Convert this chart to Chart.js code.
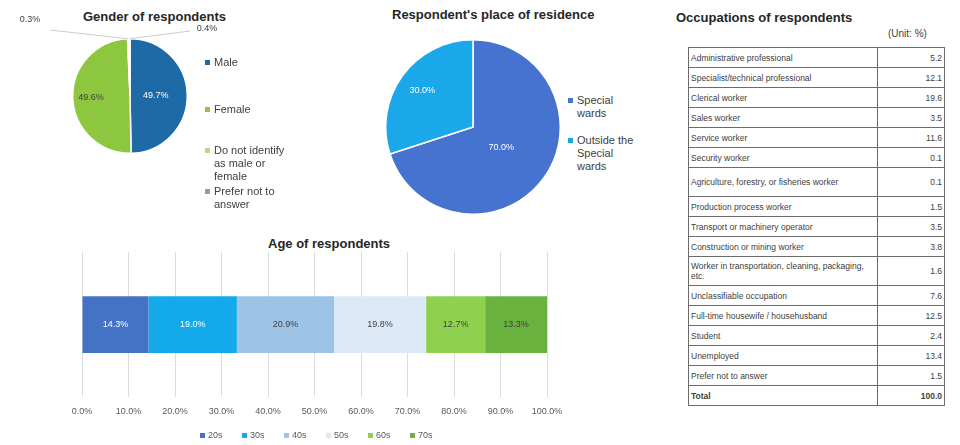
<!DOCTYPE html>
<html>
<head>
<meta charset="utf-8">
<script src="https://cdn.jsdelivr.net/npm/chart.js@4/dist/chart.umd.min.js"></script>
<style>
  html, body { margin: 0; padding: 0; background: #fff; }
  body { width: 960px; height: 445px; position: relative; overflow: hidden;
         font-family: "Liberation Sans", Arial, sans-serif; color: #404040; }
  .box { position: absolute; }
  .title { position: absolute; font-weight: bold; font-size: 13px; color: #262626; white-space: nowrap; }
  .legend { position: absolute; font-size: 11px; line-height: 13px; color: #404040; }
  .legend div { position: relative; padding-left: 9px; }
  .legend i { position: absolute; left: 0; top: 4px; width: 5px; height: 5px; }
  #ageLegend { position: absolute; left: 200px; top: 430px; display: flex; gap: 13px;
               font-size: 9px; line-height: 11px; color: #595959; }
  #ageLegend div { position: relative; padding-left: 8px; width: 21px; }
  #ageLegend i { position: absolute; left: 0; top: 3px; width: 5px; height: 5px; }
  #occ { position: absolute; left: 688px; top: 47px; width: 257px; border-collapse: collapse;
         font-size: 8.5px; color: #404040; }
  #occ td { border: 1px solid #6b6b6b; padding: 0 2px; height: 19px; line-height: 10px; }
  #occ td.v { text-align: right; width: 62px; border-left: 1.5px solid #333; }
  #occ tr.tall td { height: 28px; }
  #occ tr.total td { font-weight: bold; border-top: 1.5px solid #333; }
</style>
</head>
<body>
<div class="title" style="left:83px;top:9px;">Gender of respondents</div>
<div class="title" style="left:392px;top:7px;">Respondent's place of residence</div>
<div class="title" style="left:676px;top:10px;">Occupations of respondents</div>
<div class="title" style="left:268px;top:236px;">Age of respondents</div>
<div style="position:absolute;left:888px;top:28px;font-size:10px;color:#404040;">(Unit: %)</div>

<div class="box" style="left:0;top:0;width:330px;height:230px;"><canvas id="genderChart"></canvas></div>
<div class="box" style="left:385px;top:39px;width:176px;height:176px;"><canvas id="residenceChart"></canvas></div>
<div class="box" style="left:40px;top:230px;width:560px;height:215px;"><canvas id="ageChart"></canvas></div>

<div class="legend" id="genderLegend" style="left:205px;top:56px;width:82px;"></div>
<div class="legend" id="residenceLegend" style="left:568px;top:94px;width:70px;"></div>
<div id="ageLegend"></div>
<table id="occ"></table>

<script>
(() => {
  "use strict";

  // ── data ──────────────────────────────────────────────
  const genderLabels = ["Male", "Female", "Do not identify as male or female", "Prefer not to answer"];
  const genderValues = [49.7, 49.6, 0.3, 0.4];
  const genderColors = ["#1d6aa6", "#8dc63f", "#b5d88a", "#9a9a9a"];

  const residenceLabels = ["Special wards", "Outside the Special wards"];
  const residenceValues = [70.0, 30.0];
  const residenceColors = ["#4673cf", "#1aa8ea"];

  const ageGroups = ["20s", "30s", "40s", "50s", "60s", "70s"];
  const ageValues = [14.3, 19.0, 20.9, 19.8, 12.7, 13.3];
  const ageColors = ["#4472c4", "#12aaeb", "#9dc3e6", "#dde9f7", "#8fd14f", "#6ab23e"];
  const ageLabelColors = ["#fff", "#fff", "#404040", "#404040", "#404040", "#404040"];

  const occupations = [
    "Administrative professional",
    "Specialist/technical professional",
    "Clerical worker",
    "Sales worker",
    "Service worker",
    "Security worker",
    "Agriculture, forestry, or fisheries worker",
    "Production process worker",
    "Transport or machinery operator",
    "Construction or mining worker",
    "Worker in transportation, cleaning, packaging, etc.",
    "Unclassifiable occupation",
    "Full-time housewife / househusband",
    "Student",
    "Unemployed",
    "Prefer not to answer",
  ];
  const occupationShares = [5.2, 12.1, 19.6, 3.5, 11.6, 0.1, 0.1, 1.5, 3.5, 3.8, 1.6, 7.6, 12.5, 2.4, 13.4, 1.5];

  Chart.defaults.font.family = "'Liberation Sans', Arial, sans-serif";
  Chart.defaults.color = "#595959";

  const pct = v => v.toFixed(1) + "%";

  // value labels: inside slices/bars, plus outside labels with leader lines for thin slices
  const valueLabels = {
    id: "valueLabels",
    afterDatasetsDraw(chart, args, opts) {
      const ctx = chart.ctx;
      const ds = chart.data.datasets;
      ctx.save();
      ctx.font = (opts.size || 9) + "px 'Liberation Sans', Arial, sans-serif";
      ctx.textAlign = "center";
      ctx.textBaseline = "middle";
      ds.forEach((d, di) => {
        const meta = chart.getDatasetMeta(di);
        meta.data.forEach((el, i) => {
          const v = d.data[i];
          if (chart.config.type === "pie") {
            const p = el.getProps(["x", "y", "startAngle", "endAngle", "outerRadius"], true);
            const mid = (p.startAngle + p.endAngle) / 2;
            const out = opts.outside && opts.outside[i];
            if (out) {
              const ax = p.x + Math.cos(mid) * p.outerRadius;
              const ay = p.y + Math.sin(mid) * p.outerRadius;
              ctx.strokeStyle = "#bfbfbf";
              ctx.lineWidth = 0.8;
              ctx.beginPath();
              ctx.moveTo(out.lx, out.ly);
              ctx.lineTo(ax, ay);
              ctx.stroke();
              ctx.fillStyle = "#404040";
              ctx.fillText(pct(v), out.x, out.y);
              return;
            }
            const f = opts.radius[i];
            ctx.fillStyle = opts.colors[i];
            ctx.fillText(pct(v), p.x + Math.cos(mid) * p.outerRadius * f, p.y + Math.sin(mid) * p.outerRadius * f);
          } else {
            const p = el.getProps(["x", "y", "base"], true);
            ctx.fillStyle = opts.colors[di];
            ctx.fillText(pct(v), (p.x + p.base) / 2, p.y);
          }
        });
      });
      ctx.restore();
    },
  };

  // ── Pie: gender ───────────────────────────────────────
  new Chart(document.getElementById("genderChart"), {
    type: "pie",
    data: {
      labels: genderLabels,
      datasets: [{ data: genderValues, backgroundColor: genderColors, borderColor: "#fff", borderWidth: 1.5 }],
    },
    options: {
      responsive: true,
      maintainAspectRatio: false,
      animation: false,
      layout: { padding: { left: 72, right: 142, top: 38, bottom: 76 } },
      plugins: {
        legend: { display: false },
        tooltip: { enabled: false },
        valueLabels: {
          size: 9,
          radius: [0.45, 0.68],
          colors: ["#fff", "#404040"],
          outside: {
            2: { x: 30, y: 20, lx: 50, ly: 30 },
            3: { x: 207, y: 29, lx: 190, ly: 31 },
          },
        },
      },
    },
    plugins: [valueLabels],
  });

  // ── Pie: place of residence ──────────────────────────
  new Chart(document.getElementById("residenceChart"), {
    type: "pie",
    data: {
      labels: residenceLabels,
      datasets: [{ data: residenceValues, backgroundColor: residenceColors, borderColor: "#fff", borderWidth: 1.5 }],
    },
    options: {
      responsive: true,
      maintainAspectRatio: false,
      animation: false,
      plugins: {
        legend: { display: false },
        tooltip: { enabled: false },
        valueLabels: { size: 9, radius: [0.4, 0.72], colors: ["#fff", "#fff"] },
      },
    },
    plugins: [valueLabels],
  });

  // ── 100% stacked bar: age ────────────────────────────
  new Chart(document.getElementById("ageChart"), {
    type: "bar",
    data: {
      labels: [""],
      datasets: ageGroups.map((g, i) => ({
        label: g,
        data: [ageValues[i]],
        backgroundColor: ageColors[i],
        barPercentage: 0.39,
        categoryPercentage: 1,
      })),
    },
    options: {
      indexAxis: "y",
      responsive: true,
      maintainAspectRatio: false,
      animation: false,
      layout: { padding: { left: 42, right: 53, top: 22, bottom: 19 } },
      scales: {
        x: {
          stacked: true,
          min: 0,
          max: 100,
          ticks: { stepSize: 10, callback: v => v.toFixed(1) + "%", font: { size: 9 }, padding: 9, maxRotation: 0 },
          grid: { color: "#dcdcdc", drawTicks: false },
          border: { display: false },
        },
        y: { stacked: true, display: false },
      },
      plugins: {
        legend: { display: false },
        tooltip: { enabled: false },
        valueLabels: { size: 9, colors: ageLabelColors },
      },
    },
    plugins: [valueLabels],
  });

  // ── HTML legends ─────────────────────────────────────
  const legendHtml = (labels, colors, gaps) =>
    labels.map((l, i) => `<div style="margin-bottom:${gaps[i]}px"><i style="background:${colors[i]}"></i>${l}</div>`).join("");
  document.getElementById("genderLegend").innerHTML = legendHtml(genderLabels, genderColors, [34, 28, 2, 0]);
  document.getElementById("residenceLegend").innerHTML = legendHtml(residenceLabels, residenceColors, [14, 0]);
  document.getElementById("ageLegend").innerHTML = legendHtml(ageGroups, ageColors, ageGroups.map(() => 0));

  // ── occupation table ─────────────────────────────────
  const total = occupationShares.reduce((a, b) => a + b, 0);
  const rows = occupations.map((o, i) =>
    `<tr class="${o.length > 38 ? "tall" : ""}"><td>${o}</td><td class="v">${occupationShares[i].toFixed(1)}</td></tr>`);
  rows.push(`<tr class="total"><td>Total</td><td class="v">${total.toFixed(1)}</td></tr>`);
  document.getElementById("occ").innerHTML = rows.join("");
})();
</script>
</body>
</html>
